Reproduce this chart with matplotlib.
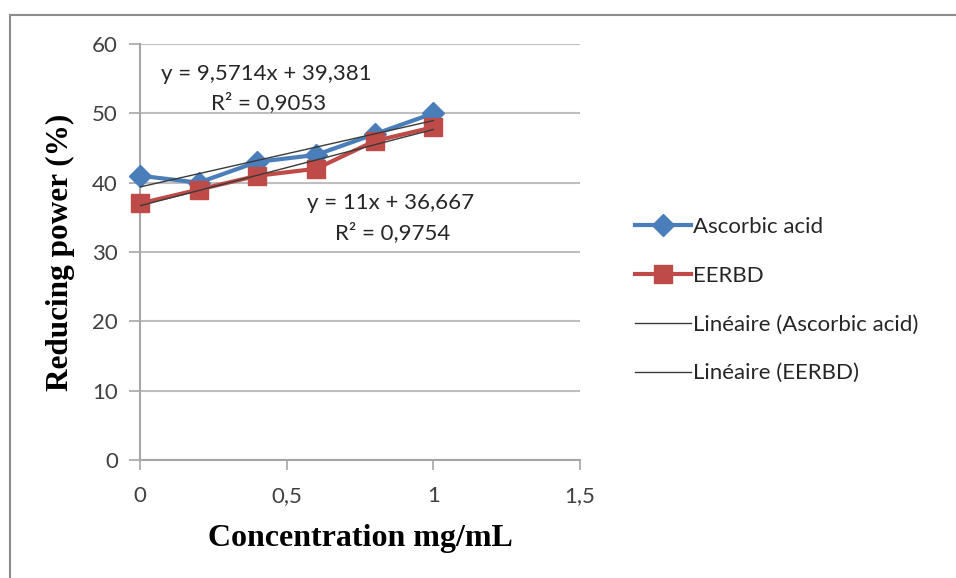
import matplotlib
matplotlib.use("Agg")
import matplotlib.pyplot as plt
import numpy as np
from matplotlib.patches import Rectangle

conc = [0, 0.2, 0.4, 0.6, 0.8, 1.0]
ascorbic = [41, 40, 43, 44, 47, 50]
eerbd = [37, 39, 41, 42, 46, 48]
x_ticks = [0, 0.5, 1, 1.5]
x_ticklabels = ["0", "0,5", "1", "1,5"]
y_ticks = [0, 10, 20, 30, 40, 50, 60]
eq_asc = "y = 9,5714x + 39,381"
r2_asc = "R² = 0,9053"
eq_eer = "y = 11x + 36,667"
r2_eer = "R² = 0,9754"

W, H = 956, 578
fig = plt.figure(figsize=(W / 100, H / 100), dpi=100)
fig.patch.set_facecolor("white")

# outer chart border (cropped at right/bottom)
fig.patches.append(Rectangle((10 / W, -0.05), 1.1, (H - 15) / H + 0.05,
                             transform=fig.transFigure, fill=False,
                             edgecolor="#8c8c8c", linewidth=1.5))

ax = fig.add_axes([140 / W, 1 - 460 / H, (580 - 140) / W, (460 - 44) / H])
ax.set_xlim(0, 1.5)
ax.set_ylim(0, 60)

tick_font = "Lato"
fs = 16
ax.set_xticks(x_ticks)
ax.set_xticklabels(x_ticklabels, fontsize=fs, color="#404040", family=tick_font)
ax.set_yticks(y_ticks)
ax.set_yticklabels([str(v) for v in y_ticks], fontsize=fs, color="#404040", family=tick_font)
ax.tick_params(axis="x", direction="out", length=7, width=1.2, color="#a6a6a6", pad=12)
ax.tick_params(axis="y", direction="out", length=8, width=1.2, color="#a6a6a6", pad=8)
ax.grid(axis="y", color="#bfbfbf", linewidth=1.5)
ax.set_axisbelow(True)
for s in ["top", "right"]:
    ax.spines[s].set_visible(False)
for s in ["left", "bottom"]:
    ax.spines[s].set_color("#a6a6a6")
    ax.spines[s].set_linewidth(1.5)

l1, = ax.plot(conc, ascorbic, color="#4a7ebb", linewidth=3, marker="D",
              markersize=11, markeredgecolor="#4a7ebb", label="Ascorbic acid",
              zorder=3, clip_on=False)
l2, = ax.plot(conc, eerbd, color="#be4b48", linewidth=3, marker="s",
              markersize=13, markeredgecolor="#be4b48", label="EERBD",
              zorder=3, clip_on=False)

xa = np.array([conc[0], conc[-1]])
pa = np.polyfit(conc, ascorbic, 1)
pe = np.polyfit(conc, eerbd, 1)
l3, = ax.plot(xa, np.polyval(pa, xa), color="#3a3a3a", linewidth=1, zorder=4,
              label="Linéaire (Ascorbic acid)")
l4, = ax.plot(xa, np.polyval(pe, xa), color="#3a3a3a", linewidth=1, zorder=4,
              label="Linéaire (EERBD)")

tk = dict(ha="center", va="center", fontsize=fs, color="#262626", family=tick_font)
ax.text(0.432, 55.7, eq_asc, **tk)
ax.text(0.439, 51.5, r2_asc, **tk)
ax.text(0.855, 37.0, eq_eer, **tk)
ax.text(0.862, 32.8, r2_eer, **tk)

ax.set_xlabel("Concentration mg/mL", fontsize=23, fontweight="bold",
              family="Liberation Serif", labelpad=13)
ax.set_ylabel("Reducing power (%)", fontsize=22.5, fontweight="bold",
              family="Liberation Serif", labelpad=12)

leg = fig.legend(handles=[l1, l2, l3, l4], loc="center left",
                 bbox_to_anchor=(615 / W, 1 - 300 / H), frameon=False,
                 prop={"family": tick_font, "size": fs}, labelspacing=1.3,
                 handlelength=2.5, handletextpad=0.1, labelcolor="#262626")

fig.savefig("out.png", dpi=100)
